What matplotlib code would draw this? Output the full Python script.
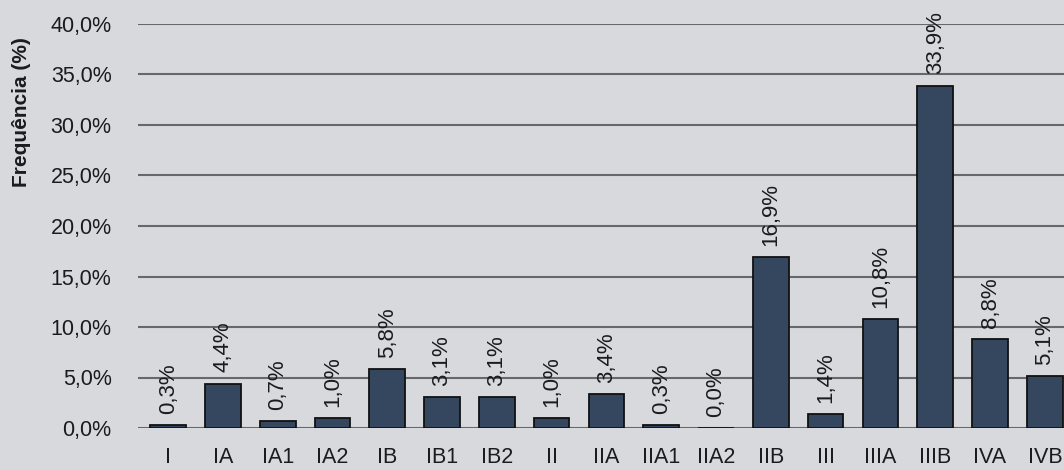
import matplotlib.pyplot as plt

# stage distribution (%)
stages = ["I", "IA", "IA1", "IA2", "IB", "IB1", "IB2", "II", "IIA", "IIA1",
          "IIA2", "IIB", "III", "IIIA", "IIIB", "IVA", "IVB"]
freq = [0.3, 4.4, 0.7, 1.0, 5.8, 3.1, 3.1, 1.0, 3.4, 0.3,
        0.0, 16.9, 1.4, 10.8, 33.9, 8.8, 5.1]
yticks = [0, 5, 10, 15, 20, 25, 30, 35, 40]

bg = "#d8d9dc"
bar_color = "#35475f"
ink = "#1b1b1d"

plt.rcParams["font.family"] = ["Liberation Sans", "DejaVu Sans"]

fig = plt.figure(figsize=(10.64, 4.70), dpi=100, facecolor=bg)
ax = fig.add_axes([138 / 1064, 42 / 470, 926 / 1064, 404 / 470])
ax.set_facecolor(bg)

x = list(range(len(stages)))
ax.bar(x, freq, width=0.65, color=bar_color, edgecolor="#111111",
       linewidth=1.3, zorder=3)

for xi, v in zip(x, freq):
    ax.annotate(f"{v:.1f}%".replace(".", ","), (xi, v), xytext=(0, 8),
                textcoords="offset points", rotation=90, ha="center",
                va="bottom", fontsize=16, color=ink, annotation_clip=False)

ax.set_xlim(-0.55, 16.35)
ax.set_ylim(0, 40)
ax.set_yticks(yticks)
ax.set_yticklabels([f"{t:.1f}%".replace(".", ",") for t in yticks])
ax.set_xticks(x)
ax.set_xticklabels(stages)

ax.grid(axis="y", color="#66686d", linewidth=1.5, zorder=0)
ax.tick_params(axis="both", length=0, labelsize=15.5, colors=ink)
ax.tick_params(axis="y", pad=19)
ax.tick_params(axis="x", pad=14)
for s in ax.spines.values():
    s.set_visible(False)

fig.text(22 / 1064, (470 - 112) / 470, "Frequência (%)", rotation=90,
         ha="center", va="center", fontsize=15, fontweight="bold", color=ink)

fig.savefig("out.png", dpi=100, facecolor=bg)
